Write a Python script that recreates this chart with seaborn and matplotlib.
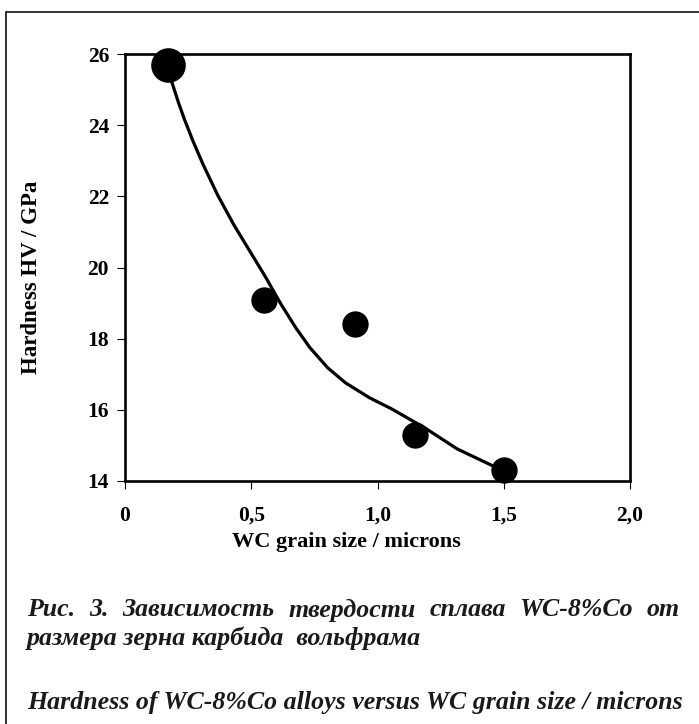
import matplotlib
matplotlib.use("Agg")
import matplotlib.pyplot as plt
from matplotlib.lines import Line2D
from matplotlib.ticker import FixedLocator, FixedFormatter
import seaborn as sns

# Measured hardness of WC-8%Co alloys
grain_size = [0.17, 0.55, 0.91, 1.15, 1.50]
hardness = [25.7, 19.1, 18.4, 15.3, 14.3]

# Trend curve through the measurements
trend_size = [0.175, 0.186, 0.211, 0.235, 0.270, 0.309, 0.368, 0.431, 0.556,
              0.616, 0.676, 0.732, 0.803, 0.873, 0.968, 1.055, 1.188, 1.316, 1.500]
trend_hardness = [25.60, 25.20, 24.65, 24.17, 23.54, 22.90, 22.02, 21.20, 19.74,
                  18.99, 18.31, 17.75, 17.18, 16.76, 16.34, 16.03, 15.49, 14.90, 14.28]

x_ticks = [0, 0.5, 1.0, 1.5, 2.0]
x_tick_labels = ["0", "0,5", "1,0", "1,5", "2,0"]
y_ticks = [14, 16, 18, 20, 22, 24, 26]
y_tick_labels = ["14", "16", "18", "20", "22", "24", "26"]

x_label = "WC grain size / microns"
y_label = "Hardness HV / GPa"
caption_ru = ["Рис. 3. Зависимость твердости сплава WC-8%Co от",
              "размера зерна карбида  вольфрама"]
caption_en = "Hardness of WC-8%Co alloys versus WC grain size / microns"

W, H, DPI = 699, 724, 100

sns.set_theme(style="white")
plt.rcParams["font.family"] = ["Liberation Serif", "DejaVu Serif"]
plt.rcParams["font.weight"] = "bold"

fig = plt.figure(figsize=(W / DPI, H / DPI), dpi=DPI)
fig.patch.set_facecolor("white")


def fx(x):
    return x / W


def fy(y):
    return 1 - y / H


ax = fig.add_axes([fx(125), fy(481), fx(630) - fx(125), fy(54) - fy(481)])
ax.set_facecolor("white")

sns.lineplot(x=trend_size, y=trend_hardness, sort=False, estimator=None,
             color="black", linewidth=2.3, ax=ax, zorder=2)
sns.scatterplot(x=grain_size, y=hardness, s=360, color="black",
                edgecolor="black", linewidth=0, ax=ax, zorder=3, clip_on=False)
sns.scatterplot(x=grain_size[:1], y=hardness[:1], s=620, color="black",
                edgecolor="black", linewidth=0, ax=ax, zorder=3, clip_on=False)

ax.set_xlim(0, 2.0)
ax.set_ylim(14, 26)
ax.xaxis.set_major_locator(FixedLocator(x_ticks))
ax.xaxis.set_major_formatter(FixedFormatter(x_tick_labels))
ax.yaxis.set_major_locator(FixedLocator(y_ticks))
ax.yaxis.set_major_formatter(FixedFormatter(y_tick_labels))
ax.tick_params(axis="x", direction="out", length=6, width=0.8, color="black",
               pad=12, labelsize=15.5, labelcolor="black", bottom=True)
ax.tick_params(axis="y", direction="out", length=5.5, width=0.8, color="black",
               pad=6, labelsize=15.5, labelcolor="black", left=True)
for lab in ax.get_xticklabels() + ax.get_yticklabels():
    lab.set_fontweight("bold")
for sp in ax.spines.values():
    sp.set_visible(True)
    sp.set_color("black")
    sp.set_linewidth(1.9)

# Axis titles
fig.text(fx(346), fy(542), x_label, ha="center", va="center",
         fontsize=16, fontweight="bold", color="black")
fig.text(fx(32), fy(277), y_label, ha="center", va="center", rotation=90,
         fontsize=16.5, fontweight="bold", color="black")

# Page frame
frame_kw = dict(transform=fig.transFigure, color="#222222", linewidth=1.3)
fig.add_artist(Line2D([fx(6), 1.0], [fy(12), fy(12)], **frame_kw))
fig.add_artist(Line2D([fx(6), fx(6)], [0.0, fy(12)], **frame_kw))

# Caption, sized to the text block width
renderer = fig.canvas.get_renderer()
cap_kw = dict(fontweight="bold", fontstyle="italic", color="#1a1a1a", va="center")
left_px, right_px = 27, 682
probe = fig.text(0, 0, caption_en, fontsize=10, **cap_kw)
probe_w = probe.get_window_extent(renderer).width
probe.remove()
cap_size = 10 * (right_px - left_px) / probe_w

fig.text(fx(left_px), fy(703), caption_en, fontsize=cap_size, ha="left", **cap_kw)

# First Russian line justified across the block
words = caption_ru[0].split()
widths = []
for w in words:
    t = fig.text(0, 0, w, fontsize=cap_size, **cap_kw)
    widths.append(t.get_window_extent(renderer).width)
    t.remove()
gap = (right_px - 2 - left_px - sum(widths)) / (len(words) - 1)
xpos = left_px
for w, wd in zip(words, widths):
    fig.text(fx(xpos), fy(610), w, fontsize=cap_size, ha="left", **cap_kw)
    xpos += wd + gap

fig.text(fx(left_px), fy(638), caption_ru[1], fontsize=cap_size, ha="left", **cap_kw)

fig.savefig("out.png", dpi=DPI, facecolor="white")
